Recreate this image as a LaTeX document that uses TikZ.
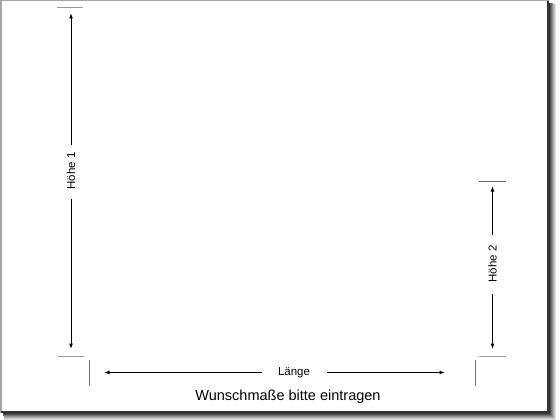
\documentclass[tikz,border=0pt]{standalone}
\usepackage{fontspec}
\setmainfont{Liberation Sans}
\usetikzlibrary{arrows.meta}
\begin{document}
\begin{tikzpicture}[x=1pt,y=-1pt,
  dim/.style={line width=1pt,black},
  tip/.style={-{Latex[length=5.5pt,width=4pt]}},
  tick/.style={line width=1pt,gray!80},
  vtick/.style={line width=0.9pt,gray!90!black},
  lbl/.style={font=\fontsize{11.5}{12}\selectfont,inner sep=0pt}]
\useasboundingbox (0,0) rectangle (560,420);
% shadow (outer lightest, inner darkest)
\foreach \i/\c in {8/12,7/22,6/32,5/44,4/56,3/68,2/80,1/92}{
  \fill[black!\c] (2+\i*0.3,2+\i*0.3) rectangle (548+\i,412+\i);
}
% frame
\fill[white] (1,1) rectangle (548,412);
\draw[line width=1.5pt,gray!70] (0.75,0.75) rectangle (548,412);
\draw[line width=1.5pt,gray!40!black] (548,1) -- (548,412) -- (1,412);
% Höhe 1
\coordinate (h1t) at (71,13);
\coordinate (h1b) at (71,349);
\node[lbl,rotate=90] (h1) at (71,171) {Höhe 1};
\draw[dim,tip] (71,145) -- (h1t);
\draw[dim,tip] (71,199) -- (h1b);
\coordinate (t1a) at (57,8); \coordinate (t1b) at (83,8);
\draw[tick] (t1a) -- (t1b);
\coordinate (t2a) at (58,356.5); \coordinate (t2b) at (84,356.5);
\draw[tick] (t2a) -- (t2b);
% Höhe 2
\coordinate (h2t) at (492.5,186);
\coordinate (h2b) at (492.5,349);
\node[lbl,rotate=90] (h2) at (492.5,264) {Höhe 2};
\draw[dim,tip] (492.5,235) -- (h2t);
\draw[dim,tip] (492.5,294) -- (h2b);
\coordinate (t3a) at (479,181); \coordinate (t3b) at (506,181);
\draw[line width=0.7pt,gray!80!black] (t3a) -- (t3b);
\coordinate (t4a) at (479,356.5); \coordinate (t4b) at (506,356.5);
\draw[tick] (t4a) -- (t4b);
% Länge
\coordinate (l1) at (104,372.5);
\coordinate (l2) at (445,372.5);
\node[lbl] (la) at (294,372.5) {Länge};
\draw[dim,tip] (262,372.5) -- (l1);
\draw[dim,tip] (327,372.5) -- (l2);
\coordinate (v1a) at (89,360); \coordinate (v1b) at (89,386);
\draw[vtick] (v1a) -- (v1b);
\coordinate (v2a) at (475,360); \coordinate (v2b) at (475,386);
\draw[vtick] (v2a) -- (v2b);
% caption
\node[inner sep=0pt,font=\fontsize{14.5}{16}\selectfont] (cap) at (288,397) {Wunschmaße bitte eintragen};
\end{tikzpicture}
\end{document}
